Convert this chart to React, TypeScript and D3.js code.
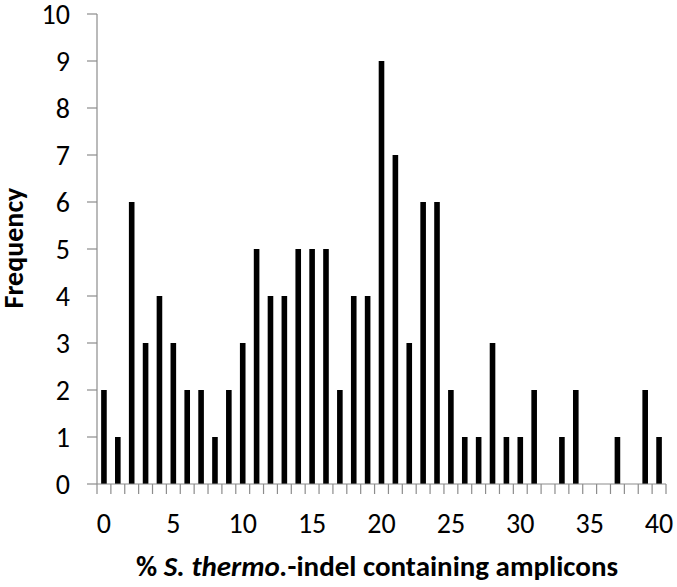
import React from "react";
import * as d3 from "d3";

// % S. thermo.-indel value (0..40) and how often it occurs
const pct = d3.range(0, 41);
const freq = [2, 1, 6, 3, 4, 3, 2, 2, 1, 2, 3, 5, 4, 4, 5, 5, 5, 2, 4, 4, 9, 7, 3, 6, 6, 2, 1, 1, 3, 1, 1, 2, 0, 1, 2, 0, 0, 1, 0, 2, 1];
const yTicks = [0, 1, 2, 3, 4, 5, 6, 7, 8, 9, 10];
const xLabels = [0, 5, 10, 15, 20, 25, 30, 35, 40];

export default function App() {
  const width = 677;
  const height = 587;
  const left = 97;
  const right = 666;
  const top = 14;
  const bottom = 484;
  const font = "Calibri, Carlito, Lato, sans-serif";
  const axisCol = "#8c8c8c";

  // one slot per category, bars centred in their slot
  const x = d3.scaleBand<number>().domain(pct).range([left, right]).padding(0);
  const y = d3.scaleLinear().domain([0, 10]).range([bottom, top]);
  const barW = 5.6;
  const cx = (v: number) => (x(v) as number) + x.bandwidth() / 2;
  const bounds = d3.range(0, pct.length + 1).map((i) => left + i * x.step());

  return (
    <svg width={width} height={height} style={{ position: "absolute", left: 0, top: 0, background: "#fff" }}>
      {/* y axis */}
      <line x1={left} y1={top} x2={left} y2={bottom} stroke={axisCol} strokeWidth={1.2} />
      {yTicks.map((t) => (
        <g key={"y" + t}>
          <line x1={left - 10} y1={y(t)} x2={left} y2={y(t)} stroke={axisCol} strokeWidth={1.2} />
          <text x={70} y={y(t)} dy="0.36em" textAnchor="end" fontFamily={font} fontSize={28} fill="#000">
            {t}
          </text>
        </g>
      ))}
      {/* bars */}
      {pct.map((p, i) =>
        freq[i] > 0 ? (
          <rect key={"b" + p} x={cx(p) - barW / 2} y={y(freq[i])} width={barW} height={bottom - y(freq[i])} fill="#000" />
        ) : null
      )}
      {/* x axis */}
      <line x1={left} y1={bottom} x2={right} y2={bottom} stroke={axisCol} strokeWidth={1.2} />
      {bounds.map((b, i) => (
        <line key={"xt" + i} x1={b} y1={bottom} x2={b} y2={bottom + 10} stroke={axisCol} strokeWidth={1.2} />
      ))}
      {xLabels.map((v) => (
        <text key={"xl" + v} x={cx(v)} y={533} textAnchor="middle" fontFamily={font} fontSize={28} fill="#000">
          {v}
        </text>
      ))}
      <text x={377} y={576} textAnchor="middle" fontFamily={font} fontSize={29} fontWeight="bold" fill="#000">
        {"% "}
        <tspan fontStyle="italic">S. thermo.</tspan>
        {"-indel containing amplicons"}
      </text>
      <text
        transform="translate(23,248) rotate(-90)"
        textAnchor="middle"
        fontFamily={font}
        fontSize={28}
        fontWeight="bold"
        fill="#000"
      >
        Frequency
      </text>
    </svg>
  );
}
